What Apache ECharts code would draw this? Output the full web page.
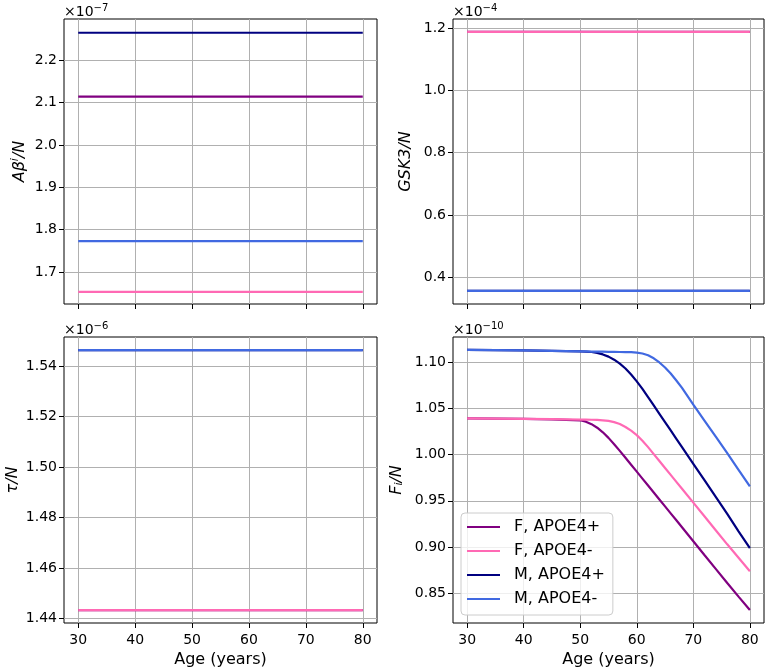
<!DOCTYPE html>
<html><head><meta charset="utf-8">
<script src="https://cdn.jsdelivr.net/npm/echarts@6/dist/echarts.min.js"></script>
<style>html,body{margin:0;padding:0;background:#fff}#c{width:768px;height:672px}</style>
</head><body><div id="c"></div>
<script>
// ---- data ----
const seriesNames = ['F, APOE4+', 'F, APOE4-', 'M, APOE4+', 'M, APOE4-'];
const xTicks = [30, 40, 50, 60, 70, 80];
const flatAges = [30, 80];

// constant panels (values in units of the panel exponent)
const abetaValues = [2.114, 1.653, 2.265, 1.773];     // ×10^-7
const gsk3Values  = [1.188, 1.188, 0.356, 0.356];     // ×10^-4
const tauValues   = [1.4433, 1.4433, 1.5464, 1.5464]; // ×10^-6

// Fi/N panel (×10^-10)
const ages   = [30, 35, 40, 45, 50, 51, 52, 53, 54, 55, 56, 57, 58, 59, 60, 61, 62, 63, 64, 65, 66, 67, 68, 70, 72, 74, 76, 78, 80];
const fiFpos = [1.0390, 1.0388, 1.0385, 1.0380, 1.0370, 1.0355, 1.0328, 1.0290, 1.0240, 1.0180, 1.0112, 1.0040, 0.9965, 0.9890, 0.9815, 0.9740, 0.9665, 0.9590, 0.9515, 0.9440, 0.9365, 0.9290, 0.9215, 0.9063, 0.8912, 0.8762, 0.8612, 0.8465, 0.8320];
const fiFneg = [1.0390, 1.0388, 1.0385, 1.0382, 1.0378, 1.0377, 1.0376, 1.0374, 1.0370, 1.0363, 1.0350, 1.0330, 1.0298, 1.0258, 1.0210, 1.0150, 1.0080, 1.0005, 0.9930, 0.9855, 0.9780, 0.9705, 0.9630, 0.9480, 0.9330, 0.9180, 0.9030, 0.8885, 0.8740];
const fiMpos = [1.1130, 1.1128, 1.1125, 1.1120, 1.1115, 1.1113, 1.1108, 1.1098, 1.1082, 1.1058, 1.1025, 1.0982, 1.0930, 1.0865, 1.0790, 1.0710, 1.0620, 1.0530, 1.0440, 1.0350, 1.0260, 1.0170, 1.0080, 0.9900, 0.9720, 0.9540, 0.9360, 0.9170, 0.8990];
const fiMneg = [1.1130, 1.1128, 1.1125, 1.1120, 1.1115, 1.1114, 1.1113, 1.1112, 1.1111, 1.1110, 1.1109, 1.1108, 1.1107, 1.1106, 1.1102, 1.1092, 1.1072, 1.1040, 1.0995, 1.0940, 1.0875, 1.0800, 1.0720, 1.0540, 1.0365, 1.0190, 1.0015, 0.9835, 0.9655];

// tick labels
const abetaTicks = [1.7, 1.8, 1.9, 2.0, 2.1, 2.2];
const gsk3Ticks  = [0.4, 0.6, 0.8, 1.0, 1.2];
const tauTicks   = [1.44, 1.46, 1.48, 1.50, 1.52, 1.54];
const fiTicks    = [0.85, 0.90, 0.95, 1.00, 1.05, 1.10];

// ---- styling / layout ----
const colors = ['#800080', '#ff69b4', '#000080', '#4169e1'];
const FONT = 'DejaVu Sans';
const grids = [
  {left: 64, top: 19, width: 313, height: 285},
  {left: 453, top: 19, width: 311, height: 285},
  {left: 64, top: 337, width: 313, height: 286},
  {left: 453, top: 337, width: 311, height: 286}
].map(g => Object.assign(g, {show: true, borderColor: '#000', borderWidth: 1, backgroundColor: 'transparent'}));

const nameRich = {
  it: {fontFamily: FONT, fontSize: 16, fontStyle: 'italic', color: '#000'},
  sup: {fontFamily: FONT, fontSize: 11, fontStyle: 'italic', color: '#000', padding: [0, 0, 8, 0]},
  sub: {fontFamily: FONT, fontSize: 11, fontStyle: 'italic', color: '#000', padding: [6, 0, 0, 0]}
};

function xAxis(i, showLabels) {
  return {
    type: 'value', gridIndex: i, min: 27.5, max: 82.5,
    axisLine: {show: false},
    axisTick: {show: true, length: 5, inside: false, lineStyle: {color: '#000', width: 1}, customValues: xTicks},
    axisLabel: {show: showLabels, customValues: xTicks, margin: 10, fontFamily: FONT, fontSize: 14, color: '#000'},
    splitLine: {show: true, lineStyle: {color: '#b0b0b0', width: 1}},
    name: showLabels ? 'Age (years)' : '', nameLocation: 'middle', nameGap: 29,
    nameTextStyle: {fontFamily: FONT, fontSize: 16, color: '#000'}
  };
}
function yAxis(i, min, max, ticks, dec, name, gap) {
  return {
    type: 'value', gridIndex: i, min: min, max: max,
    axisLine: {show: false},
    axisTick: {show: true, length: 5, inside: false, lineStyle: {color: '#000', width: 1}, customValues: ticks},
    axisLabel: {customValues: ticks, formatter: v => Number(v).toFixed(dec), margin: 7, fontFamily: FONT, fontSize: 14, color: '#000'},
    splitLine: {show: true, lineStyle: {color: '#b0b0b0', width: 1}},
    name: name, nameLocation: 'middle', nameRotate: 90, nameGap: gap,
    nameTextStyle: {fontFamily: FONT, fontSize: 16, color: '#000', rich: nameRich}
  };
}

const series = [];
function addFlat(panel, values) {
  values.forEach((v, k) => series.push({
    name: seriesNames[k], type: 'line', xAxisIndex: panel, yAxisIndex: panel,
    data: flatAges.map(a => [a, v]), showSymbol: false, symbol: 'none',
    lineStyle: {color: colors[k], width: 2.2}, itemStyle: {color: colors[k]}, silent: true
  }));
}
addFlat(0, abetaValues);
addFlat(1, gsk3Values);
addFlat(2, tauValues);
[fiFpos, fiFneg, fiMpos, fiMneg].forEach((arr, k) => series.push({
  name: seriesNames[k], type: 'line', xAxisIndex: 3, yAxisIndex: 3,
  data: ages.map((a, j) => [a, arr[j]]), showSymbol: false, symbol: 'none',
  lineStyle: {color: colors[k], width: 2.2}, itemStyle: {color: colors[k]}, silent: true
}));

function expText(x, y, exp) {
  return {
    type: 'text', x: x, y: y,
    style: {
      text: '{b|×10}{s|−' + exp + '}',
      verticalAlign: 'middle', align: 'left',
      rich: {
        b: {fontFamily: FONT, fontSize: 14, color: '#000'},
        s: {fontFamily: FONT, fontSize: 10, color: '#000', padding: [0, 0, 8, 0]}
      }
    }
  };
}

const option = {
  animation: false,
  backgroundColor: '#fff',
  grid: grids,
  xAxis: [xAxis(0, false), xAxis(1, false), xAxis(2, true), xAxis(3, true)],
  yAxis: [
    yAxis(0, 1.6244, 2.2975, abetaTicks, 1, '{it|Aβ}{sup|i}{it|/N}', 35),
    yAxis(1, 0.314, 1.2296, gsk3Ticks, 1, '{it|GSK3/N}', 39),
    yAxis(2, 1.4382, 1.5516, tauTicks, 2, '{it|τ/N}', 43),
    yAxis(3, 0.818, 1.127, fiTicks, 2, '{it|F}{sub|i}{it|/N}', 48)
  ],
  legend: {
    data: seriesNames.map((n, k) => ({name: n, icon: 'rect', itemStyle: {color: colors[k], borderWidth: 0}})),
    orient: 'vertical', left: 461, top: 513,
    itemWidth: 33, itemHeight: 2, itemGap: 8,
    padding: [6, 8, 8, 6],
    backgroundColor: 'rgba(255,255,255,0.8)', borderColor: '#cccccc', borderWidth: 1, borderRadius: 4,
    textStyle: {fontFamily: FONT, fontSize: 16, color: '#000', lineHeight: 16, padding: [0, 0, 0, 9]},
    selectedMode: false
  },
  graphic: [
    expText(64, 12, 7),
    expText(453, 12, 4),
    expText(64, 330, 6),
    expText(453, 330, 10)
  ],
  series: series
};
echarts.init(document.getElementById('c'), null, {renderer: 'canvas'}).setOption(option);
</script></body></html>
